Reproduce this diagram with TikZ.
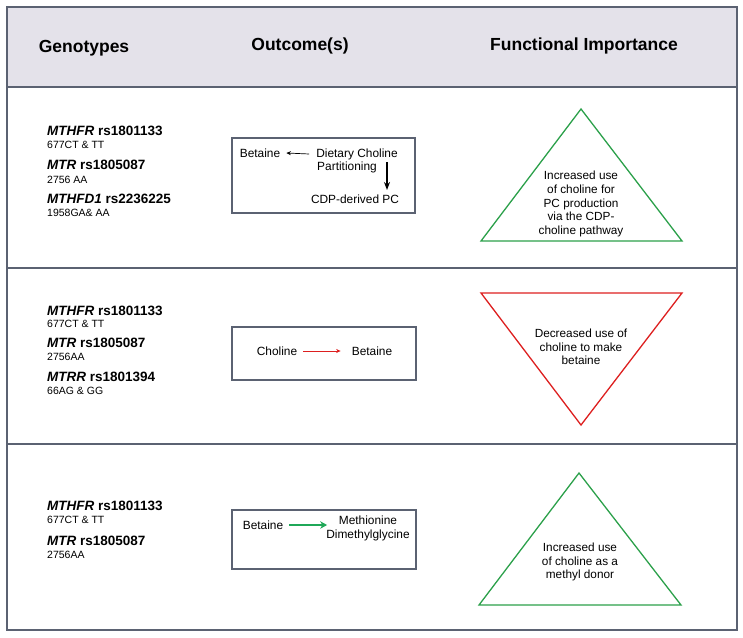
\documentclass[tikz,border=0pt]{standalone}
\usepackage{fontspec}
\setmainfont{Liberation Sans}
\usetikzlibrary{arrows.meta}
\definecolor{frame}{HTML}{5B6272}
\definecolor{headfill}{HTML}{E4E2EA}
\definecolor{tgreen}{HTML}{2BA04A}
\definecolor{tred}{HTML}{DD1F1F}
\definecolor{agreen}{HTML}{1FA858}
\tikzset{
  hdr/.style={font=\bfseries\fontsize{17.5}{19}\selectfont, inner sep=0pt},
  gene/.style={anchor=west, font=\bfseries\fontsize{13.5}{15}\selectfont, inner sep=0pt},
  geno/.style={anchor=west, font=\fontsize{10.5}{12}\selectfont, inner sep=0pt},
  btxt/.style={font=\fontsize{11.9}{14}\selectfont, inner sep=0pt, align=center},
  ttxt/.style={font=\fontsize{11.8}{13.6}\selectfont, inner sep=0pt, align=center},
  outbox/.style={draw=frame, line width=2.4pt},
  sep/.style={draw=frame, line width=1.8pt},
  tri/.style={line width=1.3pt, line join=miter},
}
\begin{document}
\begin{tikzpicture}[x=1pt,y=-1pt]
\useasboundingbox (0,0) rectangle (743,637);
% frame and header
\fill[headfill] (7,7) rectangle (737,87);
\draw[sep, line width=1.4pt] (7,7) rectangle (737,630);
\draw[sep] (7,87) -- (737,87);
\draw[sep] (7,268) -- (737,268);
\draw[sep] (7,444) -- (737,444);
\node[hdr] (h1) at (84,48) {Genotypes};
\node[hdr] (h2) at (300,46) {Outcome(s)};
\node[hdr] (h3) at (584,46) {Functional Importance};

% Row 1 genotypes
\node[gene] (g11) at (47,131) {\textit{MTHFR} rs1801133};
\node[geno] (g12) at (47,145) {677CT \& TT};
\node[gene] (g13) at (47,165) {\textit{MTR} rs1805087};
\node[geno] (g14) at (47,180) {2756 AA};
\node[gene] (g15) at (47,199) {\textit{MTHFD1} rs2236225};
\node[geno] (g16) at (47,213) {1958GA\& AA};

% Row 1 box
\draw[outbox] (232,138) rectangle (415,213);
\node[btxt] (bet1) at (260,153) {Betaine};
\node[btxt] (dc) at (357,154) {Dietary Choline};
\node[btxt] (part) at (347,167) {Partitioning};
\node[btxt] (cdp) at (355,199) {CDP-derived PC};
\draw[-{Stealth[length=4.5pt,width=4pt]}, line width=0.7pt] ([xshift=-7pt]dc.west) -- ([xshift=6pt]bet1.east);
\coordinate (d1) at (387,162);
\coordinate (d2) at (387,190);
\draw[-{Stealth[length=8pt,width=6pt]}, line width=2pt] (d1) -- (d2);

% Row 1 triangle
\coordinate (t1a) at (581,109);
\coordinate (t1b) at (481,241);
\coordinate (t1c) at (682,241);
\draw[tri, tgreen] (t1a) -- (t1b) -- (t1c) -- cycle;
\node[ttxt] (t1txt) at (581,204) {Increased use\\of choline for\\PC production\\via the CDP-\\choline pathway};

% Row 2 genotypes
\node[gene] (g21) at (47,311) {\textit{MTHFR} rs1801133};
\node[geno] (g22) at (47,324) {677CT \& TT};
\node[gene] (g23) at (47,343) {\textit{MTR} rs1805087};
\node[geno] (g24) at (47,357) {2756AA};
\node[gene] (g25) at (47,377) {\textit{MTRR} rs1801394};
\node[geno] (g26) at (47,391) {66AG \& GG};

% Row 2 box
\draw[outbox] (232,327) rectangle (416,380);
\node[btxt] (cho2) at (277,351) {Choline};
\node[btxt] (bet2) at (372,351) {Betaine};
\draw[-{Stealth[length=4.5pt,width=4pt]}, tred, line width=0.7pt] ([xshift=6pt]cho2.east) -- ([xshift=-11pt]bet2.west);

% Row 2 triangle
\coordinate (t2a) at (481,293);
\coordinate (t2b) at (682,293);
\coordinate (t2c) at (581,425);
\draw[tri, tred] (t2a) -- (t2b) -- (t2c) -- cycle;
\node[ttxt] (t2txt) at (581,347) {Decreased use of\\choline to make\\betaine};

% Row 3 genotypes
\node[gene] (g31) at (47,506) {\textit{MTHFR} rs1801133};
\node[geno] (g32) at (47,520) {677CT \& TT};
\node[gene] (g33) at (47,541) {\textit{MTR} rs1805087};
\node[geno] (g34) at (47,555) {2756AA};

% Row 3 box
\draw[outbox] (232,510) rectangle (416,569);
\node[btxt] (bet3) at (263,525) {Betaine};
\node[btxt] (meth) at (368,528.5) {Methionine\\Dimethylglycine};
\draw[-{Stealth[length=7pt,width=7.5pt]}, agreen, line width=2.4pt] ([xshift=6pt]bet3.east) -- ([xshift=1pt]meth.west |- bet3.east);

% Row 3 triangle
\coordinate (t3a) at (579,473);
\coordinate (t3b) at (479,605);
\coordinate (t3c) at (681,605);
\draw[tri, tgreen] (t3a) -- (t3b) -- (t3c) -- cycle;
\node[ttxt] (t3txt) at (580,562) {Increased use\\of choline as a\\methyl donor};
\end{tikzpicture}
\end{document}
